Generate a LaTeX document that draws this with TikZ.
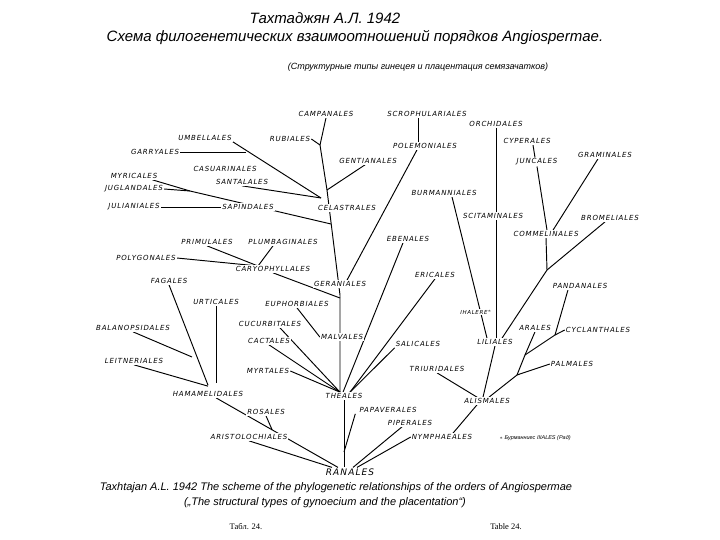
\documentclass[tikz,border=0pt]{standalone}
\usepackage{fontspec}
\setmainfont{Liberation Serif}
\newfontfamily\labf{DejaVu Sans}[LetterSpace=12]
\newfontfamily\titf{Liberation Sans}
\usetikzlibrary{calc}
\pgfdeclarelayer{bg}
\pgfsetlayers{bg,main}
\tikzset{
  lab/.style={font=\labf\itshape\fontsize{7}{8}\selectfont, inner sep=1pt, fill=white},
  big/.style={font=\labf\itshape\fontsize{9}{10}\selectfont, inner sep=1pt, fill=white},
  conn/.style={line width=0.95pt, black},
  ttl/.style={font=\titf\itshape, inner sep=0pt},
}
\begin{document}
\begin{tikzpicture}[x=1pt,y=-1pt]
\useasboundingbox (0,0) rectangle (720,540);
% titles
\node[ttl, font=\titf\itshape\fontsize{15}{16}\selectfont] (t1) at (325,18) {Тахтаджян А.Л. 1942};
\node[ttl, font=\titf\itshape\fontsize{15}{16}\selectfont] (t2) at (355,38) {Схема филогенетических взаимоотношений порядков Angiospermae.};
\node[ttl, font=\titf\itshape\fontsize{9}{10}\selectfont] (t3) at (418,67) {(Структурные типы гинецея и плацентация семязачатков)};
\node[ttl, font=\titf\itshape\fontsize{11}{12}\selectfont] (c1) at (336,488) {Taxhtajan A.L. 1942 The scheme of the phylogenetic relationships of the orders of Angiospermae};
\node[ttl, font=\titf\itshape\fontsize{11}{12}\selectfont] (c2) at (325,503) {(„The structural types of gynoecium and the placentation“)};
\node[font=\fontsize{8.5}{9}\selectfont, inner sep=0pt] (tb1) at (246,527) {Табл. 24.};
\node[font=\fontsize{8.5}{9}\selectfont, inner sep=0pt] (tb2) at (506,527) {Table 24.};
% labels
\node[lab] (campanales) at (326,114) {CAMPANALES};
\node[lab] (scrophulariales) at (427,114) {SCROPHULARIALES};
\node[lab] (orchidales) at (496,124) {ORCHIDALES};
\node[lab] (umbellales) at (205,138) {UMBELLALES};
\node[lab] (rubiales) at (290,139) {RUBIALES};
\node[lab] (polemoniales) at (425,146) {POLEMONIALES};
\node[lab] (cyperales) at (527,141) {CYPERALES};
\node[lab] (garryales) at (155,152) {GARRYALES};
\node[lab] (graminales) at (605,155) {GRAMINALES};
\node[lab] (gentianales) at (368,161) {GENTIANALES};
\node[lab] (juncales) at (537,162) {JUNCALES};
\node[lab] (casuarinales) at (225,169) {CASUARINALES};
\node[lab] (myricales) at (134,176) {MYRICALES};
\node[lab] (santalales) at (242,182) {SANTALALES};
\node[lab] (juglandales) at (134,189) {JUGLANDALES};
\node[lab] (burmanniales) at (444,193) {BURMANNIALES};
\node[lab] (julianiales) at (134,207) {JULIANIALES};
\node[lab] (sapindales) at (248,207) {SAPINDALES};
\node[lab] (celastrales) at (347,208) {CELASTRALES};
\node[lab] (scitaminales) at (493,216) {SCITAMINALES};
\node[lab] (bromeliales) at (610,218) {BROMELIALES};
\node[lab] (commelinales) at (546,234) {COMMELINALES};
\node[lab] (primulales) at (207,242) {PRIMULALES};
\node[lab] (plumbaginales) at (283,242) {PLUMBAGINALES};
\node[lab] (ebenales) at (408,239) {EBENALES};
\node[lab] (polygonales) at (146,258) {POLYGONALES};
\node[lab] (caryophyllales) at (273,269) {CARYOPHYLLALES};
\node[lab] (geraniales) at (340,284) {GERANIALES};
\node[lab] (ericales) at (435,275) {ERICALES};
\node[lab] (fagales) at (169,281) {FAGALES};
\node[lab] (pandanales) at (580,286) {PANDANALES};
\node[lab] (urticales) at (216,302) {URTICALES};
\node[lab] (euphorbiales) at (297,304) {EUPHORBIALES};
\node[lab] (balanopsidales) at (133,328) {BALANOPSIDALES};
\node[lab, font=\labf\itshape\fontsize{5.5}{6}\selectfont] (ihalere) at (476,312) {IHALERE$^{*}$};
\node[lab] (cucurbitales) at (270,324) {CUCURBITALES};
\node[lab] (arales) at (535,328) {ARALES};
\node[lab] (cyclanthales) at (598,330) {CYCLANTHALES};
\node[lab] (liliales) at (495,342) {LILIALES};
\node[lab] (cactales) at (269,341) {CACTALES};
\node[lab] (malvales) at (342,337) {MALVALES};
\node[lab] (salicales) at (418,344) {SALICALES};
\node[lab] (palmales) at (572,364) {PALMALES};
\node[lab] (leitneriales) at (134,361) {LEITNERIALES};
\node[lab] (triuridales) at (437,369) {TRIURIDALES};
\node[lab] (myrtales) at (268,371) {MYRTALES};
\node[lab] (hamamelidales) at (208,394) {HAMAMELIDALES};
\node[lab] (theales) at (344,396) {THEALES};
\node[lab] (alismales) at (487,401) {ALISMALES};
\node[lab] (rosales) at (266,412) {ROSALES};
\node[lab] (papaverales) at (388,410) {PAPAVERALES};
\node[lab] (piperales) at (410,423) {PIPERALES};
\node[lab] (aristolochiales) at (249,437) {ARISTOLOCHIALES};
\node[lab] (nymphaeales) at (442,437) {NYMPHAEALES};
\node[big] (ranales) at (350,472) {RANALES};
\node[lab, font=\titf\itshape\fontsize{5.5}{6}\selectfont] (foot) at (535,438) {$\ast$ Бурманниес IIIALES (Рад)};
% junctions
\coordinate (j1) at (320,145);
\coordinate (j2) at (327,190);
\coordinate (tk) at (340,295);
\coordinate (celj) at (321,198);
\coordinate (garj) at (246,152);
\coordinate (jugj) at (190,191);
\coordinate (trkm) at (331,224);
\coordinate (caryj) at (258,266);
\coordinate (trkc) at (340,298);
\coordinate (balend) at (192,357);
\coordinate (papj) at (344,452);
\coordinate (monoj) at (547,270);
\coordinate (palj) at (517,375);
\coordinate (arj) at (525,355);
\coordinate (cycj) at (555,335);
\begin{pgfonlayer}{bg}
\fill[white] (0,0) rectangle (720,540);
\begin{scope}[conn]
% dicot upper
\draw (campanales.south) -- (j1);
\draw (rubiales.east) -- (j1);
\draw (j1) -- (j2);
\draw ([xshift=-3pt]gentianales.south) -- (j2);
\draw (j2) -- (tk) -- (tk |- theales.north);
\draw (umbellales.south east) -- (celj);
\draw (garryales.east) -- (garj);
\draw (santalales.south) -- (celj);
\draw ([xshift=-6pt]myricales.south east) -- (jugj) -- (trkm);
\draw (juglandales.east) -- (jugj);
\draw (julianiales.east) -- (sapindales.west);
\draw (primulales.south) -- (caryj);
\draw ([xshift=-10pt]plumbaginales.south) -- (caryj);
\draw (polygonales.east) -- (caryj);
\draw (caryophyllales.south) -- (trkc);
\draw ([xshift=-8pt]polemoniales.south) -- ([xshift=7pt]geraniales.north);
\draw ([xshift=-9pt]scrophulariales.south) -- ([xshift=-7pt]polemoniales.north);
\draw ([xshift=-5pt]ebenales.south) -- ([xshift=-1pt]theales.north);
\draw (ericales.south) -- ([xshift=6pt]theales.north);
\draw (salicales.south west) -- ([xshift=6pt]theales.north);
\draw (euphorbiales.south) -- (malvales.west);
\draw ([xshift=10pt]cucurbitales.south) -- ([xshift=-4pt]theales.north);
\draw (cactales.south) -- ([xshift=-4pt]theales.north);
\draw (myrtales.east) -- ([xshift=-4pt]theales.north);
% hamamelidales group
\draw (fagales.south) -- ([yshift=5pt]hamamelidales.north);
\draw (urticales.south) -- ([yshift=7pt]urticales.south |- hamamelidales.north);
\draw (balanopsidales.south) -- (balend);
\draw (leitneriales.south) -- ([yshift=4pt]hamamelidales.north);
\draw ([xshift=8pt]hamamelidales.south) -- ([xshift=-12pt]ranales.north);
\draw (rosales.south) -- ($([xshift=8pt]hamamelidales.south)!0.46!([xshift=-12pt]ranales.north)$);
\draw (aristolochiales.south) -- ([xshift=-18pt]ranales.north);
\draw (theales.south) -- (theales.south |- ranales.north);
\draw ([xshift=-3pt]papaverales.south west) -- (papj);
\draw ([xshift=-8pt]piperales.south) -- ([xshift=3pt]ranales.north);
\draw (nymphaeales.west) -- ([xshift=7pt]ranales.north);
\draw ([xshift=-10pt]alismales.south) -- ([xshift=11pt]nymphaeales.north);
% monocots
\draw (orchidales.south) -- (orchidales.south |- liliales.north);
\draw ([xshift=6pt]cyperales.south) -- ([xshift=-2pt]juncales.north);
\draw (juncales.south) -- ([xshift=1pt]commelinales.north);
\draw ([xshift=-7pt]graminales.south) -- ([xshift=7pt]commelinales.north);
\draw (commelinales.south) -- (monoj);
\draw ([xshift=-5pt]bromeliales.south) -- (monoj);
\draw (monoj) -- ([xshift=7pt]liliales.north);
\draw ([xshift=8pt]burmanniales.south) -- ([xshift=-8pt]liliales.north);
\draw (liliales.south) -- ([xshift=-4pt]alismales.north);
\draw (triuridales.south) -- ([xshift=-10pt]alismales.north);
\draw ([xshift=2pt]alismales.north) -- (palj);
\draw (palj) -- (palmales.west);
\draw (palj) -- (arj);
\draw (arj) -- (arales.south);
\draw (arj) -- (cycj);
\draw (cycj) -- (cyclanthales.west);
\draw (cycj) -- ([xshift=-12pt]pandanales.south);
\end{scope}
\end{pgfonlayer}
\end{tikzpicture}
\end{document}
